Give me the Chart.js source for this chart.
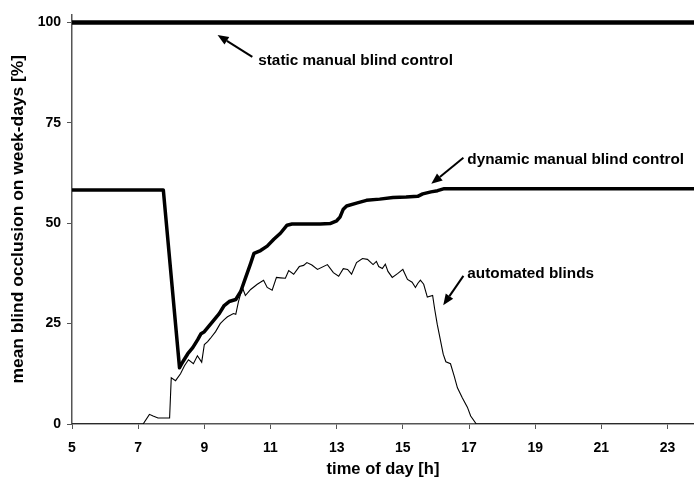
<!DOCTYPE html>
<html>
<head>
<meta charset="utf-8">
<script src="https://cdn.jsdelivr.net/npm/chart.js@4.4.1/dist/chart.umd.min.js"></script>
<style>
  html, body { margin: 0; padding: 0; background: #fff; }
  #wrap { width: 694px; height: 485px; }
</style>
</head>
<body>
<div id="wrap"><canvas id="c" width="694" height="485"></canvas></div>
<script>
// Time of day [h] and mean blind occlusion [%] for the three control strategies
const staticHours = [5, 24];
const staticValues = [100, 100];

const dynamicHours = [5, 7.76, 8.25, 8.35, 8.5, 8.65, 8.8, 8.9, 9.0, 9.15, 9.3, 9.45, 9.6, 9.75, 9.95,
  10.1, 10.25, 10.4, 10.5, 10.7, 10.9, 11.1, 11.3, 11.5, 11.65, 12.0, 12.5, 12.8, 13.0, 13.1, 13.2,
  13.3, 13.6, 13.9, 14.3, 14.7, 15.1, 15.45, 15.6, 15.85, 16.05, 16.25, 24];
const dynamicValues = [58.3, 58.3, 14, 15.5, 17.5, 19, 21, 22.5, 23, 24.5, 26, 27.5, 29.5, 30.5, 31,
  33, 36.5, 40, 42.5, 43.2, 44.3, 46, 47.5, 49.5, 49.8, 49.8, 49.8, 49.9, 50.6, 51.5, 53.5,
  54.3, 55, 55.7, 56, 56.4, 56.5, 56.7, 57.3, 57.8, 58.1, 58.6, 58.6];

const automatedHours = [5, 7.15, 7.34, 7.45, 7.6, 7.95, 8.0, 8.13, 8.28, 8.4, 8.52, 8.67, 8.79, 8.92,
  9.0, 9.1, 9.18, 9.34, 9.48, 9.6, 9.7, 9.88, 9.95, 10.03, 10.15, 10.24, 10.4, 10.6, 10.79, 10.9,
  11.05, 11.18, 11.3, 11.45, 11.55, 11.7, 11.87, 12.0, 12.1, 12.25, 12.42, 12.72, 12.9, 13.06, 13.2,
  13.33, 13.45, 13.6, 13.78, 13.93, 14.1, 14.2, 14.27, 14.38, 14.47, 14.55, 14.68, 14.85, 15.0,
  15.14, 15.28, 15.38, 15.45, 15.53, 15.63, 15.74, 15.9, 15.96, 16.04, 16.22, 16.3, 16.44, 16.55,
  16.65, 16.8, 16.95, 17.05, 17.22, 24];
const automatedValues = [0, 0, 2.4, 2.0, 1.5, 1.5, 11.5, 10.8, 12.5, 14.5, 16, 15, 17, 15.4,
  19.8, 20.5, 21.3, 23, 25, 26, 26.7, 27.5, 27.3, 30.4, 34, 32, 33.5, 34.8, 35.8, 34,
  33.3, 36.5, 36.4, 36.3, 38.2, 37.3, 39.2, 39.5, 40.2, 39.6, 38.5, 39.7, 37.7, 36.8, 38.7,
  38.5, 37.3, 40.2, 41.2, 41, 39.7, 40.5, 39.2, 38.7, 39.8, 38, 36.5, 37.5, 38.5,
  36, 35.3, 34, 35, 35.8, 34.8, 31.6, 32, 28.7, 24.8, 17.4, 15.5, 15, 12,
  9, 6.5, 4.2, 2.0, 0, 0];

const xTickLabels = [5, 7, 9, 11, 13, 15, 17, 19, 21, 23];
const yTickLabels = [0, 25, 50, 75, 100];

// Callout texts with their arrows, in data units (hour, %)
const callouts = [
  { text: 'static manual blind control', tx: 10.63, ty: 90.4, from: [10.45, 91.4], to: [9.4, 96.9] },
  { text: 'dynamic manual blind control', tx: 16.95, ty: 65.9, from: [16.83, 66.3], to: [15.86, 59.8] },
  { text: 'automated blinds', tx: 16.95, ty: 37.5, from: [16.83, 36.9], to: [16.22, 29.6] }
];

const FONT = '"Liberation Sans", Arial, sans-serif';

const toXY = (xs, ys) => xs.map((x, i) => ({ x: x, y: ys[i] }));

const calloutPlugin = {
  id: 'callouts',
  afterDatasetsDraw(chart) {
    const { ctx, scales: { x, y } } = chart;
    ctx.save();
    ctx.fillStyle = '#000';
    ctx.strokeStyle = '#000';
    callouts.forEach(c => {
      const x0 = x.getPixelForValue(c.from[0]), y0 = y.getPixelForValue(c.from[1]);
      const x1 = x.getPixelForValue(c.to[0]), y1 = y.getPixelForValue(c.to[1]);
      const ang = Math.atan2(y1 - y0, x1 - x0);
      const head = 11, half = 4.5;
      const bx = x1 - head * Math.cos(ang), by = y1 - head * Math.sin(ang);
      ctx.lineWidth = 2;
      ctx.beginPath();
      ctx.moveTo(x0, y0);
      ctx.lineTo(bx, by);
      ctx.stroke();
      ctx.beginPath();
      ctx.moveTo(x1, y1);
      ctx.lineTo(bx + half * Math.sin(ang), by - half * Math.cos(ang));
      ctx.lineTo(bx - half * Math.sin(ang), by + half * Math.cos(ang));
      ctx.closePath();
      ctx.fill();
      ctx.font = 'bold 15.3px ' + FONT;
      ctx.textAlign = 'left';
      ctx.textBaseline = 'middle';
      ctx.fillText(c.text, x.getPixelForValue(c.tx), y.getPixelForValue(c.ty));
    });
    ctx.restore();
  }
};

new Chart(document.getElementById('c'), {
  type: 'line',
  data: {
    datasets: [
      { label: 'static manual blind control', data: toXY(staticHours, staticValues),
        borderColor: '#000', borderWidth: 4.5, pointRadius: 0, tension: 0 },
      { label: 'dynamic manual blind control', data: toXY(dynamicHours, dynamicValues),
        borderColor: '#000', borderWidth: 3.5, pointRadius: 0, tension: 0, borderJoinStyle: 'round' },
      { label: 'automated blinds', data: toXY(automatedHours, automatedValues),
        borderColor: '#000', borderWidth: 1.1, pointRadius: 0, tension: 0 }
    ]
  },
  options: {
    responsive: false,
    animation: false,
    events: [],
    layout: { padding: { left: 0, right: 0, top: 8, bottom: 0 } },
    plugins: { legend: { display: false }, tooltip: { enabled: false } },
    scales: {
      x: {
        type: 'linear',
        min: 5,
        max: 23.8,
        afterBuildTicks: s => { s.ticks = xTickLabels.map(v => ({ value: v })); },
        afterFit: s => { s.height = 61; },
        grid: { drawOnChartArea: false, drawTicks: true, tickLength: 5, color: '#555' },
        border: { color: '#555', width: 1.5 },
        ticks: { color: '#000', font: { family: FONT, size: 14, weight: 'bold' }, padding: 11, maxRotation: 0 },
        title: { display: true, text: 'time of day [h]', color: '#000',
          font: { family: FONT, size: 16.5, weight: 'bold' }, padding: { top: 2, bottom: 6 } }
      },
      y: {
        type: 'linear',
        min: 0,
        max: 102,
        afterBuildTicks: s => { s.ticks = yTickLabels.map(v => ({ value: v })); },
        afterFit: s => { s.width = 72; },
        grid: { drawOnChartArea: false, drawTicks: true, tickLength: 5, color: '#555' },
        border: { color: '#555', width: 1.5 },
        ticks: { color: '#000', font: { family: FONT, size: 14, weight: 'bold' }, padding: 6 },
        title: { display: true, text: 'mean blind occlusion on week-days [%]', color: '#000',
          font: { family: FONT, size: 17.4, weight: 'bold' }, padding: { top: 8, bottom: 4 } }
      }
    }
  },
  plugins: [calloutPlugin]
});
</script>
</body>
</html>
